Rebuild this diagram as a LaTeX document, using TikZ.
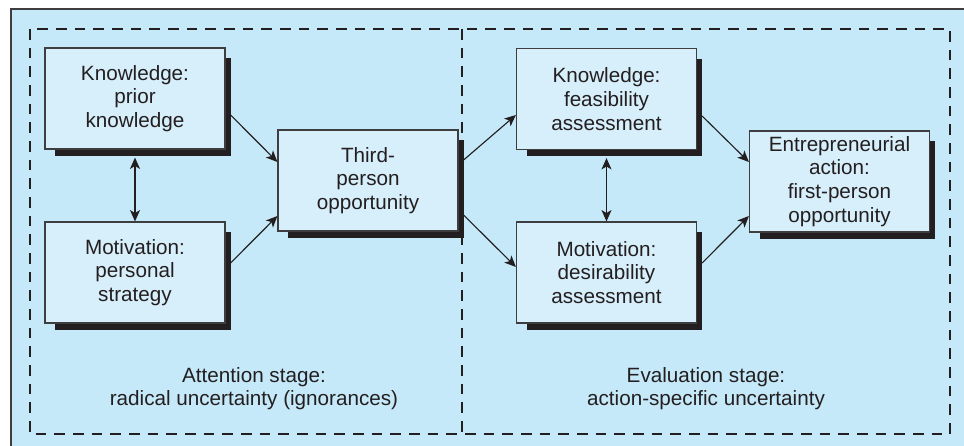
\documentclass[tikz,border=0pt]{standalone}
\usepackage{fontspec}
\setmainfont{Liberation Sans}
\usetikzlibrary{calc,arrows.meta,backgrounds}
\definecolor{panelblue}{RGB}{198,233,249}
\definecolor{boxblue}{RGB}{215,238,251}
\definecolor{inkgray}{RGB}{35,31,32}
\definecolor{edgegray}{RGB}{62,62,64}
\tikzset{
	stagebox/.style={draw=edgegray, line width=0.9pt, fill=boxblue, minimum width=135pt, minimum height=75.75pt, inner sep=0pt, align=center, text=inkgray, font=\fontsize{15.5}{17.8}\selectfont},
	flow/.style={draw=inkgray, line width=0.85pt, -{Stealth[length=8.5pt,width=7.5pt,inset=2.2pt]}},
	twoway/.style={flow, {Stealth[length=8.5pt,width=7.5pt,inset=2.2pt]}-{Stealth[length=8.5pt,width=7.5pt,inset=2.2pt]}},
	stagefence/.style={draw=inkgray, line width=0.9pt, dash pattern=on 8pt off 6pt},
	stagelabel/.style={align=center, text=inkgray, font=\fontsize{15.5}{17.5}\selectfont}
}
\def\boxshadow(#1){\fill[inkgray] ($(#1.south west)+(11,6)$) rectangle ($(#1.north east)+(5,11)$);}

\begin{document}
\begin{tikzpicture}[x=0.75pt, y=-0.75pt]
		%%%%% START %%%%%
		\useasboundingbox (0,0) rectangle (964,446);
		
		\node[stagebox] (k1) at (135, 98.5) {Knowledge:\\prior\\knowledge};
		\node[stagebox] (m1) at (135, 272.5) {Motivation:\\personal\\strategy};
		\node[stagebox] (t3) at (368, 180.5) {Third-\\person\\opportunity};
		\node[stagebox] (k2) at (606.5, 99) {Knowledge:\\feasibility\\assessment};
		\node[stagebox] (m2) at (606.5, 272.5) {Motivation:\\desirability\\assessment};
		\node[stagebox] (ea) at (839.5, 181.5) {Entrepreneurial\\action:\\first-person\\opportunity};
		
		\begin{pgfonlayer}{background}
			\fill[panelblue] (11, 9) rectangle (964, 446);
			\draw[edgegray, line width=1pt] (11, 446) -- (11, 9) -- (964, 9);
			\boxshadow(k1)
			\boxshadow(m1)
			\boxshadow(t3)
			\boxshadow(k2)
			\boxshadow(m2)
			\boxshadow(ea)
		\end{pgfonlayer}
		
		\draw[stagefence] (30, 29) rectangle (950, 434);
		\draw[stagefence] (462, 29) -- (462, 434);
		
		\draw[twoway] ([yshift=-6pt]k1.south) -- (m1.north);
		\draw[twoway] ([yshift=-6pt]k2.south) -- (m2.north);
		
		\draw[flow] ($(k1.east)+(5,16.5)$) -- ($(t3.west)+(0,-18.5)$);
		\draw[flow] ($(m1.east)+(5,-9.5)$) -- ($(t3.west)+(0,35.5)$);
		\draw[flow] ($(t3.east)+(5,-20.5)$) -- ($(k2.west)+(0,16)$);
		\draw[flow] ($(t3.east)+(5,34.5)$) -- ($(m2.west)+(0,-5.5)$);
		\draw[flow] ($(k2.east)+(5,17)$) -- ($(ea.west)+(0,-19.5)$);
		\draw[flow] ($(m2.east)+(5,-9.5)$) -- ($(ea.west)+(0,34.5)$);
		
		\node[stagelabel] (attn) at (254, 388.5) {Attention stage:\\radical uncertainty (ignorances)};
		\node[stagelabel] (eval) at (706, 388.5) {Evaluation stage:\\action-specific uncertainty};
		%%%%% END %%%%%
\end{tikzpicture}
\end{document}
